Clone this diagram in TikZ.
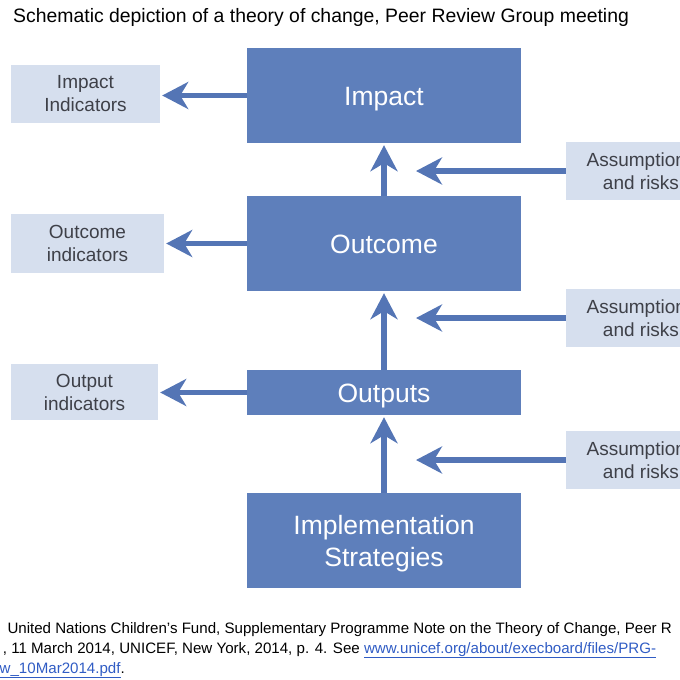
\documentclass[tikz,border=0pt]{standalone}
\usepackage{fontspec}
\setmainfont{Liberation Sans}
\usetikzlibrary{arrows.meta}
\definecolor{tocblue}{RGB}{94,127,187}
\definecolor{tocarrow}{RGB}{84,117,181}
\definecolor{toclight}{RGB}{214,223,238}
\definecolor{tocgray}{RGB}{62,64,72}
\definecolor{linkblue}{RGB}{48,92,196}
\newcommand{\weblink}[1]{\textcolor{linkblue}{\underline{#1}}}

\begin{document}
\begin{tikzpicture}[x=1pt,y=-1pt,
    bigbox/.style={fill=tocblue,text=white,inner sep=0pt,minimum width=274pt,minimum height=95pt,align=center,text height=19pt,text depth=0pt,font=\fontsize{26.5}{32}\selectfont},
    smallbox/.style={fill=toclight,text=tocgray,inner sep=0pt,align=center,font=\fontsize{19}{23}\selectfont},
    flow/.style={draw=tocarrow,line width=5.5pt,-{Stealth[length=26pt,width=27pt,inset=8pt]}},
    note/.style={anchor=base west,inner sep=0pt,font=\fontsize{15.1}{20}\selectfont}]
      \useasboundingbox (0,0) rectangle (680,680);
      \clip (0,0) rectangle (680,680);
      \node[anchor=base west,inner sep=0pt,font=\fontsize{19.4}{23}\selectfont] (title) at (13,22) {Schematic depiction of a theory of change, Peer Review Group meeting};
      % main chain
      \node[bigbox] (imp) at (384,95.5) {Impact};
      \node[bigbox] (outc) at (384,243.5) {Outcome};
      \node[bigbox,minimum height=45pt] (outp) at (384,392.5) {Outputs};
      \node[bigbox,text height=51pt] (impl) at (384,540.5) {Implementation\\Strategies};
      % indicators
      \node[smallbox,minimum width=149pt,minimum height=58pt] (impi) at (85.5,94) {Impact\\Indicators};
      \node[smallbox,minimum width=153pt,minimum height=59pt] (outci) at (87.5,243.5) {Outcome\\indicators};
      \node[smallbox,minimum width=147pt,minimum height=56pt] (outpi) at (84.5,392) {Output\\indicators};
      % assumptions
      \node[smallbox,minimum width=150pt,minimum height=58pt] (as1) at (641,171) {Assumptions\\and risks};
      \node[smallbox,minimum width=150pt,minimum height=58pt] (as2) at (641,318) {Assumptions\\and risks};
      \node[smallbox,minimum width=150pt,minimum height=58pt] (as3) at (641,460) {Assumptions\\and risks};
      \coordinate (a1) at (416,171);
      \coordinate (a2) at (416,318);
      \coordinate (a3) at (416,460);
      \draw[flow,shorten >=2pt] (imp.west) -- (impi.east |- imp.west);
      \draw[flow,shorten >=2pt] (outc.west) -- (outci.east |- outc.west);
      \draw[flow,shorten >=2pt] (outp.west) -- (outpi.east |- outp.west);
      \draw[flow,shorten >=2pt] (outc) -- (imp);
      \draw[flow,shorten >=2pt] (outp) -- (outc);
      \draw[flow,shorten >=2pt] (impl) -- (outp);
      \draw[flow] (as1.west) -- (a1);
      \draw[flow] (as2.west) -- (a2);
      \draw[flow] (as3.west) -- (a3);
      % source
      \node[note] (src1) at (7.3,633) {United Nations Children’s Fund, Supplementary Programme Note on the Theory of Change, Peer R};
      \node[note] (src2) at (2.7,653) {, 11 March 2014, UNICEF, New York, 2014, p. 4. See \weblink{www.unicef.org/about/execboard/files/PRG-}};
      \node[note] (src3) at (-0.5,673) {\weblink{w\_10Mar2014.pdf}.};
\end{tikzpicture}
\end{document}
